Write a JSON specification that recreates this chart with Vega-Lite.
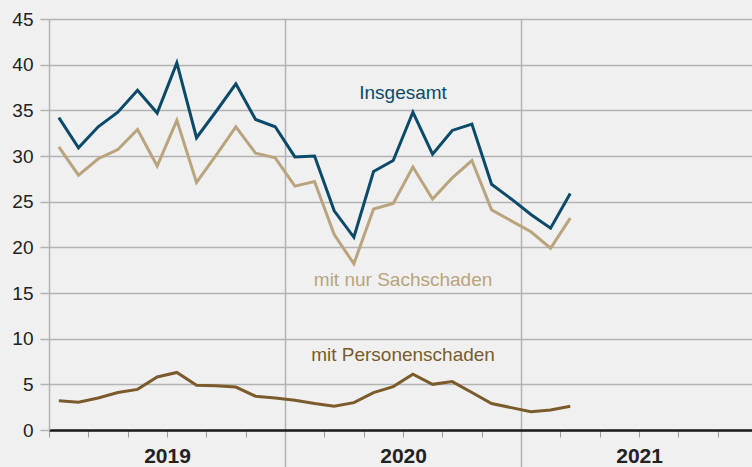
{
  "$schema": "https://vega.github.io/schema/vega-lite/v6.json",
  "width": 703,
  "height": 411,
  "autosize": {"type": "none"},
  "padding": {"left": 49, "top": 19, "right": 0, "bottom": 37},
  "background": "#f0f0f0",
  "config": {"view": {"stroke": null}, "font": "Liberation Sans"},
  "datasets": {
    "werte": [
      {"Monat": 0, "Insgesamt": 34.2, "mit nur Sachschaden": 31.0, "mit Personenschaden": 3.2},
      {"Monat": 1, "Insgesamt": 30.9, "mit nur Sachschaden": 27.9, "mit Personenschaden": 3.05},
      {"Monat": 2, "Insgesamt": 33.2, "mit nur Sachschaden": 29.7, "mit Personenschaden": 3.5},
      {"Monat": 3, "Insgesamt": 34.8, "mit nur Sachschaden": 30.7, "mit Personenschaden": 4.1},
      {"Monat": 4, "Insgesamt": 37.2, "mit nur Sachschaden": 32.9, "mit Personenschaden": 4.45},
      {"Monat": 5, "Insgesamt": 34.7, "mit nur Sachschaden": 28.9, "mit Personenschaden": 5.8},
      {"Monat": 6, "Insgesamt": 40.2, "mit nur Sachschaden": 33.9, "mit Personenschaden": 6.3},
      {"Monat": 7, "Insgesamt": 32.0, "mit nur Sachschaden": 27.1, "mit Personenschaden": 4.9},
      {"Monat": 8, "Insgesamt": 34.9, "mit nur Sachschaden": 30.1, "mit Personenschaden": 4.85},
      {"Monat": 9, "Insgesamt": 37.9, "mit nur Sachschaden": 33.2, "mit Personenschaden": 4.7},
      {"Monat": 10, "Insgesamt": 34.0, "mit nur Sachschaden": 30.3, "mit Personenschaden": 3.7},
      {"Monat": 11, "Insgesamt": 33.2, "mit nur Sachschaden": 29.8, "mit Personenschaden": 3.5},
      {"Monat": 12, "Insgesamt": 29.9, "mit nur Sachschaden": 26.7, "mit Personenschaden": 3.25},
      {"Monat": 13, "Insgesamt": 30.0, "mit nur Sachschaden": 27.2, "mit Personenschaden": 2.9},
      {"Monat": 14, "Insgesamt": 24.0, "mit nur Sachschaden": 21.4, "mit Personenschaden": 2.6},
      {"Monat": 15, "Insgesamt": 21.1, "mit nur Sachschaden": 18.2, "mit Personenschaden": 3.0},
      {"Monat": 16, "Insgesamt": 28.3, "mit nur Sachschaden": 24.2, "mit Personenschaden": 4.1},
      {"Monat": 17, "Insgesamt": 29.5, "mit nur Sachschaden": 24.8, "mit Personenschaden": 4.75},
      {"Monat": 18, "Insgesamt": 34.8, "mit nur Sachschaden": 28.8, "mit Personenschaden": 6.1},
      {"Monat": 19, "Insgesamt": 30.2, "mit nur Sachschaden": 25.3, "mit Personenschaden": 5.0},
      {"Monat": 20, "Insgesamt": 32.8, "mit nur Sachschaden": 27.6, "mit Personenschaden": 5.3},
      {"Monat": 21, "Insgesamt": 33.5, "mit nur Sachschaden": 29.5, "mit Personenschaden": 4.1},
      {"Monat": 22, "Insgesamt": 26.9, "mit nur Sachschaden": 24.1, "mit Personenschaden": 2.9},
      {"Monat": 23, "Insgesamt": 25.3, "mit nur Sachschaden": 22.9, "mit Personenschaden": 2.45},
      {"Monat": 24, "Insgesamt": 23.6, "mit nur Sachschaden": 21.7, "mit Personenschaden": 2.0},
      {"Monat": 25, "Insgesamt": 22.1, "mit nur Sachschaden": 19.9, "mit Personenschaden": 2.2},
      {"Monat": 26, "Insgesamt": 25.9, "mit nur Sachschaden": 23.2, "mit Personenschaden": 2.6}
    ],
    "beschriftung": [
      {"Reihe": "Insgesamt", "Monat": 17.5, "Anzahl": 36.9},
      {"Reihe": "mit nur Sachschaden", "Monat": 17.5, "Anzahl": 16.4},
      {"Reihe": "mit Personenschaden", "Monat": 17.5, "Anzahl": 8.2}
    ]
  },
  "layer": [
    {
      "data": {"name": "werte"},
      "transform": [
        {"fold": ["Insgesamt", "mit nur Sachschaden", "mit Personenschaden"], "as": ["Reihe", "Anzahl"]}
      ],
      "mark": {"type": "line", "strokeWidth": 3, "strokeJoin": "miter"},
      "encoding": {
        "x": {
          "field": "Monat",
          "type": "quantitative",
          "scale": {"domain": [-0.5, 35.24], "nice": false, "zero": false},
          "axis": {
            "title": null,
            "values": [-0.5, 0.5, 1.5, 2.5, 3.5, 4.5, 5.5, 6.5, 7.5, 8.5, 9.5, 10.5, 11.5, 12.5, 13.5, 14.5, 15.5, 16.5, 17.5, 18.5, 19.5, 20.5, 21.5, 22.5, 23.5, 24.5, 25.5, 26.5, 27.5, 28.5, 29.5, 30.5, 31.5, 32.5, 33.5, 34.5],
            "grid": true,
            "gridColor": {"condition": {"test": "datum.value == 11.5 || datum.value == 23.5", "value": "#b3b3b3"}, "value": "transparent"},
            "gridWidth": 1.5,
            "domainColor": "#1a1a1a",
            "domainWidth": 2.5,
            "tickColor": {"condition": {"test": "datum.value == 11.5 || datum.value == 23.5", "value": "#b3b3b3"}, "value": "#9a9a9a"},
            "tickWidth": {"condition": {"test": "datum.value == 11.5 || datum.value == 23.5", "value": 1.5}, "value": 1},
            "tickSize": {"condition": {"test": "datum.value == 11.5 || datum.value == 23.5", "value": 37}, "value": 7},
            "labelExpr": "datum.value == 5.5 ? '2019' : datum.value == 17.5 ? '2020' : datum.value == 29.5 ? '2021' : ''",
            "labelFontSize": 21,
            "labelFontWeight": "bold",
            "labelColor": "#222222",
            "labelPadding": 8,
            "labelAngle": 0,
            "labelOverlap": false,
            "labelFlush": false,
            "labelBound": false
          }
        },
        "y": {
          "field": "Anzahl",
          "type": "quantitative",
          "scale": {"domain": [0, 45], "nice": false},
          "axis": {
            "title": null,
            "values": [0, 5, 10, 15, 20, 25, 30, 35, 40, 45],
            "grid": true,
            "gridColor": "#b3b3b3",
            "gridWidth": 1.5,
            "domainColor": "#b3b3b3",
            "domainWidth": 1.5,
            "tickColor": "#b3b3b3",
            "tickWidth": 1.5,
            "tickSize": 9,
            "labelFontSize": 19,
            "labelColor": "#222222",
            "labelPadding": 7
          }
        },
        "color": {
          "field": "Reihe",
          "type": "nominal",
          "scale": {"domain": ["Insgesamt", "mit nur Sachschaden", "mit Personenschaden"], "range": ["#0b4a68", "#b9a47e", "#7b5b2c"]},
          "legend": null
        }
      }
    },
    {
      "data": {"name": "beschriftung"},
      "mark": {"type": "text", "fontSize": 19, "align": "center", "baseline": "middle"},
      "encoding": {
        "x": {"field": "Monat", "type": "quantitative"},
        "y": {"field": "Anzahl", "type": "quantitative"},
        "text": {"field": "Reihe"},
        "color": {"field": "Reihe", "type": "nominal", "legend": null}
      }
    }
  ]
}
